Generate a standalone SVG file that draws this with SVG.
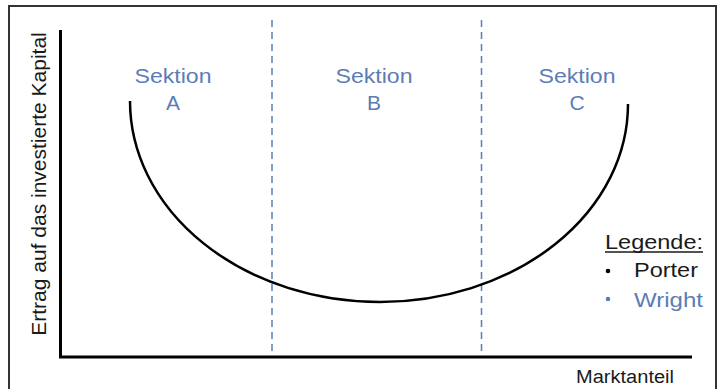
<svg xmlns="http://www.w3.org/2000/svg" width="718" height="389" viewBox="0 0 718 389">
<style>
text{font-family:"Liberation Sans",Arial,sans-serif;}
.sek{fill:#5b7db5;font-size:21px;text-anchor:middle;}
.axis{stroke:#000;stroke-width:3;fill:none;}
.dash{stroke:#5b7db5;stroke-width:1.5;stroke-dasharray:7 5;fill:none;}
.lbl{fill:#1a1a1a;font-size:21px;}
</style>
<rect x="0" y="0" width="718" height="389" fill="#fff"/>
<rect x="9" y="6" width="707" height="400" fill="none" stroke="#333" stroke-width="2"/>
<g id="connectors">
<line class="axis" x1="60.5" y1="30" x2="60.5" y2="358"/>
<line class="axis" x1="59" y1="357" x2="692" y2="357"/>
<line class="dash" x1="272" y1="20" x2="272" y2="356"/>
<line class="dash" x1="481.5" y1="20" x2="481.5" y2="356"/>
<path d="M130,101 A250 201 0 0 0 380,302 A248 198 0 0 0 628,104" fill="none" stroke="#000" stroke-width="2.5"/>
</g>
<g id="sektionA">
<text class="sek" x="173" y="83" textLength="77" lengthAdjust="spacingAndGlyphs">Sektion</text>
<text class="sek" x="173" y="110">A</text>
</g>
<g id="sektionB">
<text class="sek" x="374" y="83" textLength="77" lengthAdjust="spacingAndGlyphs">Sektion</text>
<text class="sek" x="374" y="110">B</text>
</g>
<g id="sektionC">
<text class="sek" x="577" y="83" textLength="77" lengthAdjust="spacingAndGlyphs">Sektion</text>
<text class="sek" x="577" y="110">C</text>
</g>
<g id="yLabel">
<text class="lbl" transform="translate(46,184) rotate(-90)" text-anchor="middle">Ertrag auf das investierte Kapital</text>
</g>
<g id="xLabel">
<text class="lbl" x="576" y="383" style="font-size:18px" textLength="98" lengthAdjust="spacingAndGlyphs">Marktanteil</text>
</g>
<g id="legend">
<text class="lbl" x="605" y="249" textLength="98" lengthAdjust="spacingAndGlyphs">Legende:</text>
<line x1="605" y1="252" x2="703" y2="252" stroke="#1a1a1a" stroke-width="1.5"/>
<circle cx="608" cy="271" r="2.3" fill="#000"/>
<text class="lbl" x="634" y="277" textLength="64" lengthAdjust="spacingAndGlyphs">Porter</text>
<circle cx="608" cy="299" r="2.3" fill="#5b7db5"/>
<text class="lbl" x="634" y="307" style="fill:#5b7db5" textLength="69" lengthAdjust="spacingAndGlyphs">Wright</text>
</g>
</svg>
